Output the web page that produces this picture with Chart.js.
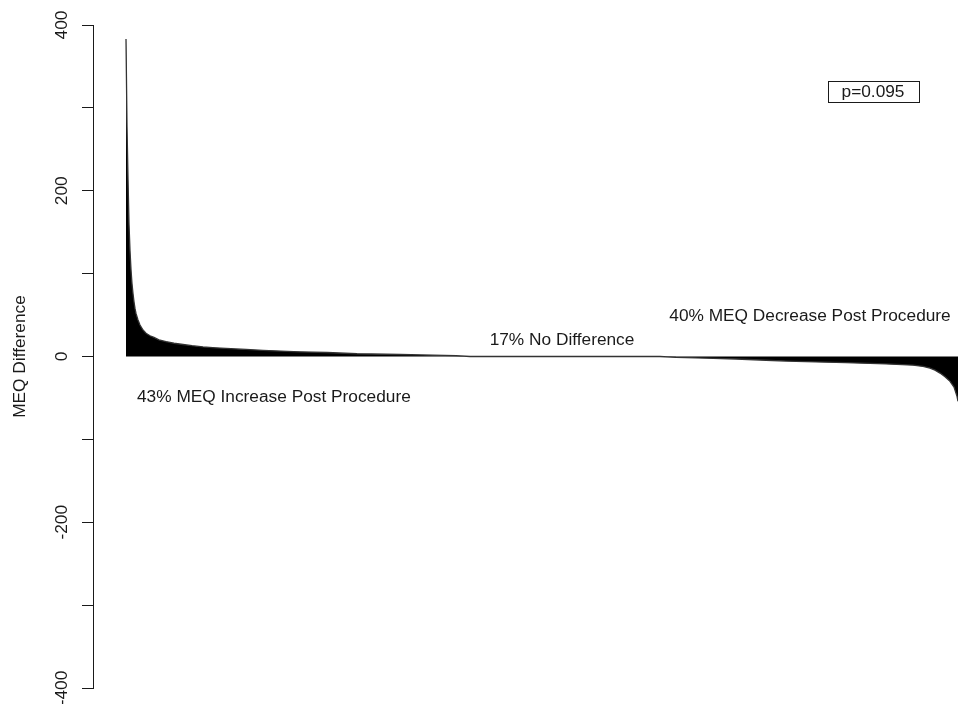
<!DOCTYPE html>
<html>
<head>
<meta charset="utf-8">
<title>MEQ Difference waterfall</title>
<script src="https://cdn.jsdelivr.net/npm/chart.js@4.4.1/dist/chart.umd.min.js"></script>
<style>
  html, body { margin: 0; padding: 0; background: #fff; }
  #wrap { width: 958px; height: 704px; }
</style>
</head>
<body>
<div id="wrap"><canvas id="chart" width="958" height="704"></canvas></div>
<script>
// Patients ordered by change in MEQ (post minus pre), largest increase first.
const patientRank = [
  0, 1, 2, 3, 4, 5, 6, 7, 8, 9, 10, 12, 14, 17, 20, 24, 28, 33, 40, 48,
  57, 66, 77, 90, 105, 120, 137, 155, 174, 201, 231, 274, 307, 330, 344,
  400, 460, 534,
  550, 580, 610, 640, 660, 690, 720, 760, 787, 797, 804, 809, 814, 819,
  824, 828, 831, 832
];
const meqDiff = [
  383, 278, 215, 160, 128, 105, 88, 76, 66, 58, 52, 44, 38, 32, 28, 25, 23, 20, 18, 16,
  14.5, 13, 11.5, 10.5, 9.5, 8.5, 7.5, 6.5, 5.7, 4.8, 3.3, 2.4, 1.6, 1, 0,
  0, 0, 0,
  -1, -2, -3, -4.5, -5.5, -6.5, -7.5, -9, -10.5, -12, -14, -16.5, -20, -24.5,
  -30, -37, -48, -54
];

// Axis ticks (every 100 marked, every 200 labelled)
const yTickValues = [-400, -300, -200, -100, 0, 100, 200, 300, 400];
const yTickLabels = ['-400', '', '-200', '', '0', '', '200', '', '400'];

// Group shares and test result written on the plot
const groupNotes = [
  { text: '43% MEQ Increase Post Procedure', rank: 11, meq: -49, align: 'left' },
  { text: '17% No Difference', rank: 436, meq: 20, align: 'center' },
  { text: '40% MEQ Decrease Post Procedure', rank: 684, meq: 49, align: 'center' }
];
const pValueText = 'p=0.095';
const pValueAnchor = { rank: 747, meq: 320 };

const FONT = '"Liberation Sans", Arial, Helvetica, sans-serif';
const INK = '#1a1a1a';
const TEXT_SIZE = 17.3;

const annotate = {
  id: 'annotate',
  afterDraw(chart) {
    const { ctx, scales } = chart;
    const x = scales.x, y = scales.y;
    ctx.save();
    ctx.fillStyle = INK;
    ctx.font = TEXT_SIZE + 'px ' + FONT;

    // rotated y tick labels, read bottom-to-top
    yTickValues.forEach((v, i) => {
      if (!yTickLabels[i]) return;
      ctx.save();
      ctx.translate(62.5, y.getPixelForValue(v));
      ctx.rotate(-Math.PI / 2);
      ctx.textAlign = 'center';
      ctx.textBaseline = 'middle';
      ctx.fillText(yTickLabels[i], 0, 0);
      ctx.restore();
    });

    ctx.textBaseline = 'middle';
    groupNotes.forEach(n => {
      ctx.textAlign = n.align;
      ctx.fillText(n.text, x.getPixelForValue(n.rank), y.getPixelForValue(n.meq));
    });

    // boxed p-value
    const px = x.getPixelForValue(pValueAnchor.rank);
    const py = y.getPixelForValue(pValueAnchor.meq);
    const w = ctx.measureText(pValueText).width + 28;
    const h = 21;
    ctx.strokeStyle = INK;
    ctx.lineWidth = 1;
    ctx.strokeRect(Math.round(px - w / 2) + 0.5, Math.round(py - h / 2) + 0.5, Math.round(w), h);
    ctx.textAlign = 'center';
    ctx.fillText(pValueText, px, py + 1);
    ctx.restore();
  }
};

new Chart(document.getElementById('chart'), {
  type: 'line',
  data: {
    datasets: [{
      data: patientRank.map((r, i) => ({ x: r, y: meqDiff[i] })),
      fill: 'origin',
      backgroundColor: '#000',
      borderColor: '#333',
      borderWidth: 1.3,
      pointRadius: 0,
      tension: 0
    }]
  },
  options: {
    responsive: false,
    animation: false,
    devicePixelRatio: 1,
    layout: { padding: { top: 25, bottom: 16, left: 0, right: 0 } },
    plugins: { legend: { display: false }, tooltip: { enabled: false } },
    scales: {
      x: { type: 'linear', min: -33, max: 832, display: false },
      y: {
        min: -400,
        max: 400,
        afterBuildTicks(scale) { scale.ticks = yTickValues.map(v => ({ value: v })); },
        afterFit(scale) { scale.width = 93; },
        ticks: { display: false },
        grid: { drawOnChartArea: false, drawTicks: true, tickLength: 11, color: INK, lineWidth: 1 },
        border: { display: true, color: INK, width: 1 },
        title: {
          display: true,
          text: 'MEQ Difference',
          color: INK,
          font: { size: TEXT_SIZE, family: FONT },
          padding: { top: 10, bottom: 0 }
        }
      }
    }
  },
  plugins: [annotate]
});
</script>
</body>
</html>
